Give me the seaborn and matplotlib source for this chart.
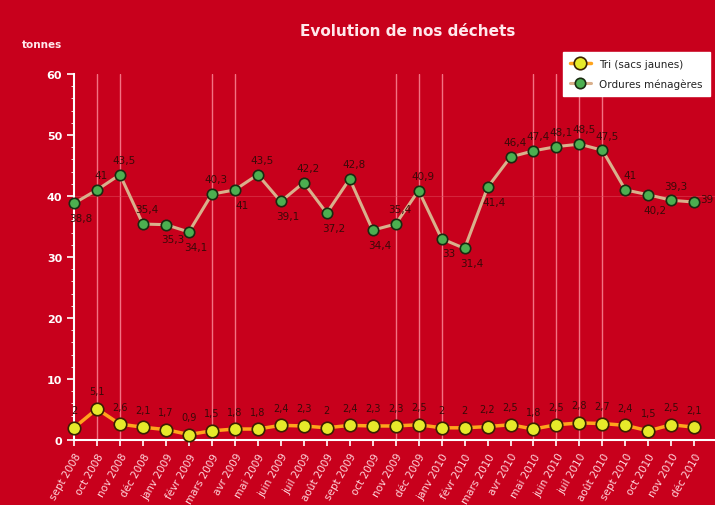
import pandas as pd
import seaborn as sns
import matplotlib.pyplot as plt

months = ['sept 2008', 'oct 2008', 'nov 2008', 'déc 2008',
          'janv 2009', 'févr 2009', 'mars 2009', 'avr 2009', 'mai 2009', 'juin 2009',
          'juil 2009', 'août 2009', 'sept 2009', 'oct 2009', 'nov 2009', 'déc 2009',
          'janv 2010', 'févr 2010', 'mars 2010', 'avr 2010', 'mai 2010', 'juin 2010',
          'juil 2010', 'août 2010', 'sept 2010', 'oct 2010', 'nov 2010', 'déc 2010']
tri = [2, 5.1, 2.6, 2.1, 1.7, 0.9, 1.5, 1.8, 1.8, 2.4, 2.3, 2, 2.4, 2.3,
       2.3, 2.5, 2, 2, 2.2, 2.5, 1.8, 2.5, 2.8, 2.7, 2.4, 1.5, 2.5, 2.1]
ordures = [38.8, 41, 43.5, 35.4, 35.3, 34.1, 40.3, 41, 43.5, 39.1, 42.2, 37.2, 42.8, 34.4,
           35.4, 40.9, 33, 31.4, 41.4, 46.4, 47.4, 48.1, 48.5, 47.5, 41, 40.2, 39.3, 39]
# position of each label around the green points: 1 = above, -1 = below
ordures_pos = [-1, 1, 1, 1, -1, -1, 1, -1, 1, -1, 1, -1, 1, -1,
               1, 1, -1, -1, -1, 1, 1, 1, 1, 1, 1, -1, 1, 0]
# months marked with a light vertical line
highlight = [1, 2, 6, 7, 14, 15, 16, 20, 21, 22, 23]

red = '#c8001c'
sns.set_style('ticks')
plt.rcParams['font.family'] = ['DejaVu Sans']

df = pd.DataFrame({'mois': range(len(months)), 'tri': tri, 'ordures': ordures})

fig = plt.figure(figsize=(7.15, 5.06), dpi=100, facecolor=red)
ax = fig.add_axes([74 / 715, 65 / 506, 641 / 715, 366 / 506])
ax.set_facecolor(red)

for i in highlight:
    ax.axvline(i, color='#ff8f9c', lw=1, alpha=0.8, zorder=0)
ax.axhline(40, color='#e0485a', lw=0.8, alpha=0.5, zorder=0)

sns.lineplot(data=df, x='mois', y='tri', ax=ax, color='#ffa41c', lw=2.5,
             marker='o', markersize=9, markerfacecolor='#e6ea2a',
             markeredgecolor='#3a2000', markeredgewidth=1.2,
             label='Tri (sacs jaunes)', clip_on=False, zorder=3)
sns.lineplot(data=df, x='mois', y='ordures', ax=ax, color='#d9b08c', lw=2.2,
             marker='o', markersize=7.5, markerfacecolor='#4caf50',
             markeredgecolor='#1a2a10', markeredgewidth=1.2,
             label='Ordures ménagères', clip_on=False, zorder=3)


def fmt(v):
    s = ('%g' % v).replace('.', ',')
    return s


for i, v in enumerate(tri):
    ax.annotate(fmt(v), (i, v), xytext=(0, 9), textcoords='offset points',
                ha='center', va='bottom', fontsize=7, color='#3a0a08')
for i, (v, p) in enumerate(zip(ordures, ordures_pos)):
    if p == 0:
        off, va, ha = (4, 2), 'center', 'left'
    elif p > 0:
        off, va, ha = (3, 7), 'bottom', 'center'
    else:
        off, va, ha = (5, -7), 'top', 'center'
    ax.annotate(fmt(v), (i, v), xytext=off, textcoords='offset points',
                ha=ha, va=va, fontsize=7.5, color='#3a0a08')

ax.set_xlim(0, 27.9)
ax.set_ylim(0, 60)
ax.set_yticks(range(0, 61, 10))
ax.set_yticks(range(0, 61, 2), minor=True)
ax.set_xticks(range(len(months)))
ax.set_xticklabels(months, rotation=60, ha='right', rotation_mode='anchor',
                   fontsize=7.5, color='#ffd6dc')
ax.tick_params(axis='y', colors='white', labelsize=8, length=5, width=1.2)
ax.tick_params(axis='y', which='minor', colors='white', length=2.5)
ax.tick_params(axis='x', colors='white', length=4, width=1.2, pad=4)
for lab in ax.get_yticklabels():
    lab.set_fontweight('bold')
for lab in ax.get_xticklabels():
    lab.set_color('#ffd6dc')

sns.despine(ax=ax, right=True, top=True)
ax.spines['left'].set_color('white')
ax.spines['bottom'].set_color('white')
ax.spines['left'].set_linewidth(1.5)
ax.spines['bottom'].set_linewidth(1.5)
ax.set_xlabel('')
ax.set_ylabel('')

fig.text(408 / 715, 1 - 32 / 506, 'Evolution de nos déchets', ha='center', va='center',
         fontsize=11, fontweight='bold', color='#ffe8ec')
fig.text(42 / 715, 1 - 45 / 506, 'tonnes', ha='center', va='center',
         fontsize=7.5, fontweight='bold', color='#ffe8ec')

leg = ax.legend(loc='upper right', bbox_to_anchor=(1.0, 1.075), fontsize=7.5,
                frameon=True, fancybox=False, framealpha=1, edgecolor='white',
                handlelength=2.0, borderpad=0.7, labelspacing=0.9)
leg.get_frame().set_facecolor('white')
for t in leg.get_texts():
    t.set_color('#222222')

fig.savefig('out.png', dpi=100, facecolor=red)
